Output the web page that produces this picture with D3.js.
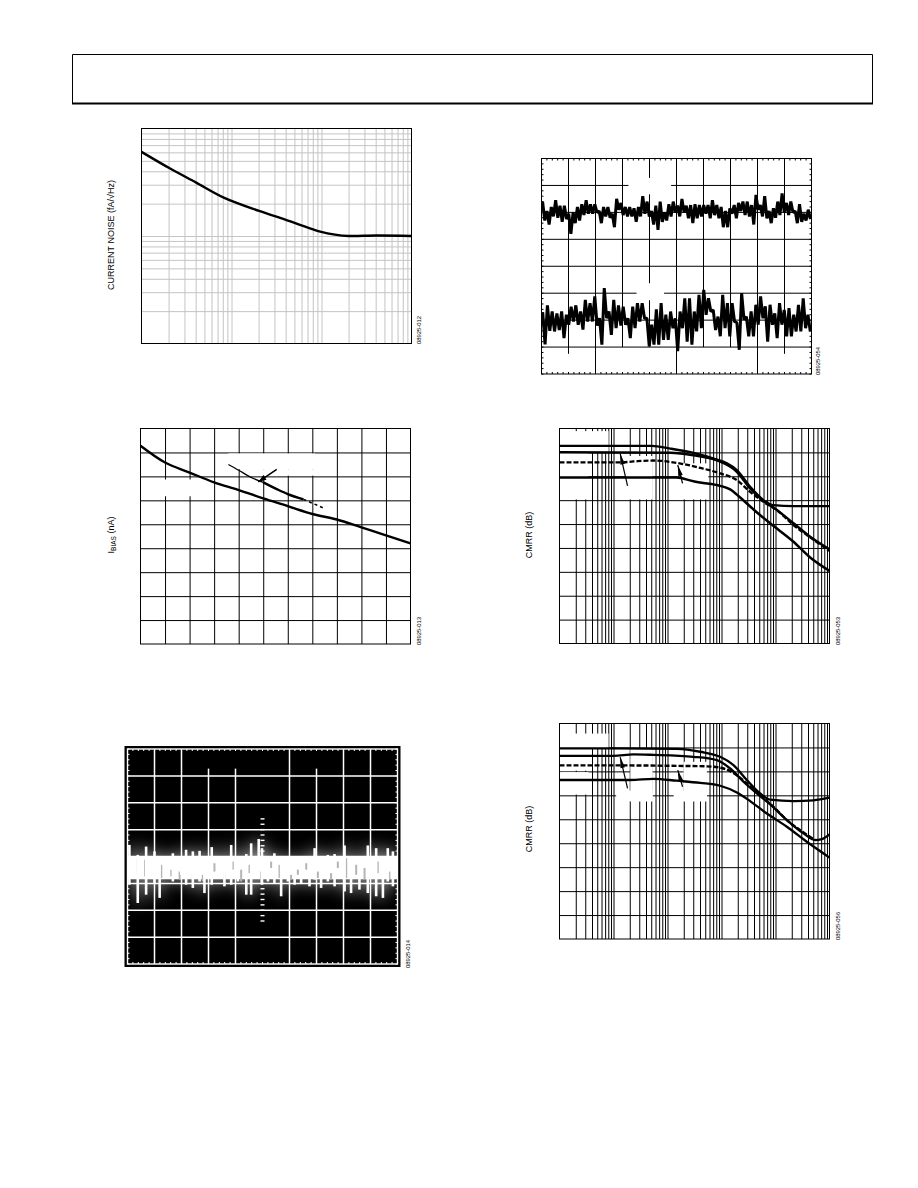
<!DOCTYPE html>
<html><head><meta charset="utf-8">
<script src="https://cdn.jsdelivr.net/npm/d3@7/dist/d3.min.js"></script>
<style>html,body{margin:0;padding:0;background:#fff}svg{display:block}
text{font-family:"Liberation Sans",Arial,sans-serif;fill:#000}</style></head><body>
<svg id="page" width="918" height="1188"></svg>
<script>
// ---------- Data ----------
const noiseF = [1,2.08,4.05,8.08,20.3,39.5,68,96.7,141,200,408,1000];
const noiseV = [606,424,314,229,171,142,121,110,103,100,101,100];

const biasX  = [0,1,2,3,4,5,6,7,8,9,10,11];
const biasY  = [8.28,7.58,7.16,6.75,6.43,6.08,5.76,5.43,5.2,4.87,4.54,4.2];
const bias2ThinX = [3.58,4,4.46,5];
const bias2ThinY = [7.5,7.26,6.98,6.75];
const bias2ThickX = [5,5.55,6,6.64];
const bias2ThickY = [6.75,6.47,6.26,6.04];
const bias2DotX = [6.64,7.5];
const bias2DotY = [6.04,5.66];

const scopeT = [0.07,0.38,0.69,1,1.19,1.49,1.68,1.99,2.17,2.42,2.67,2.85,3.12,3.35,3.59,3.84,4.09,4.4,4.58,4.86,4.98,5.2,5.44,5.69,5.94,6.19,6.43,6.74,6.93,7.17,7.42,7.67,8.04,8.28,8.59,8.9,9.21,9.46,9.64,9.83];
const scopeHi = [.43,.06,.37,.19,-.06,0,.12,0,.25,.19,.21,0,.35,0,0,.43,0,.09,.49,.65,.31,0,.12,-.25,0,-.25,-.19,0,.31,0,.06,.09,.41,0,0,.41,.31,0,.31,.19];
const scopeLo = [-1.05,-1.73,-1.42,-.99,-1.54,-.8,-.93,-.68,-1.05,-1.17,-.93,-1.36,-1.05,-.8,-1.11,-1.05,-.93,-1.42,-1.42,-.8,-1.05,-.93,-.99,-1.48,-.93,-1.05,-.99,-1.11,-.86,-1.17,-.93,-1.11,-1.3,-1.36,-1.23,-1.36,-1.48,-1.54,-.93,-1.11];
const scopeBandT  = [0,10];
const scopeBandHi = [.02,.02];
const scopeBandLo = [-.85,-.85];
const scopeGapT  = [.38,.65,1.25,1.62,1.93,2.42,2.79,3.22,3.59,3.9,4.21,4.52,4.95,5.32,5.63,6.06,6.31,6.62,7.05,7.54,7.79,8.1,8.47,8.78,9.27,9.7];
const scopeGapHi = [-.06,-.12,-.31,-.49,-.56,-.62,-.68,-.25,-.62,-.19,-.49,-.31,-.56,-.19,-.31,-.68,-.49,-.25,-.56,-.62,-.19,-.06,-.31,-.43,-.19,-.56];
const scopeGapLo = [-.62,-.74,-.8,-.74,-.86,-.86,-.93,-.56,-.93,-.49,-.93,-.62,-.99,-.43,-.8,-.86,-.68,-.49,-.8,-.86,-.43,-.8,-.68,-.86,-.62,-.86];

const trace1Hi = [2.4,2.05,2.2,2.45,2.25,2.25,1.95,2.0,2.2,2.3,2.45,2.3,2.3,2.05,2.2,2.2,1.95,2.5,2.35,2.2,2.2,2.15,2.2,2.6,2.4,2.05,2.25,2.4,2.0,2.3,2.4,2.25,2.5,2.25,2.27,2.3,2.27,2.27,2.27,2.45,2.27,2.2,2.05,2.15,2.27,2.35,2.4,2.4,2.27,2.65,2.27,2.6,2.05,2.15,2.4,2.7,2.35,2.4,2.05,2.3,1.95,2.1];
const trace1Lo = [1.7,1.55,1.85,1.8,1.65,1.75,1.2,1.6,1.7,1.9,1.95,1.95,2.0,1.6,1.85,1.8,1.45,2.1,1.9,1.85,1.85,1.65,1.85,1.95,1.85,1.55,1.35,1.65,1.7,1.85,2.0,1.85,2.0,1.78,1.6,1.78,1.85,1.95,1.78,1.9,1.78,1.45,1.45,1.95,1.78,2.05,1.9,1.85,1.55,2.1,1.85,1.78,1.6,1.8,1.9,2.0,1.9,2.0,1.6,1.65,1.7,1.75];
const trace2Hi = [-1.7,-1.45,-1.68,-1.75,-1.68,-1.8,-1.5,-1.45,-1.68,-1.25,-1.37,-1.12,-1.93,-.81,-1.68,-1.25,-1.45,-1.5,-1.93,-1.5,-1.37,-1.37,-1.93,-2.17,-1.6,-1.37,-1.8,-1.68,-1.93,-1.68,-1.19,-1.19,-1.68,-1.06,-.88,-1.19,-1.62,-1.87,-1.06,-1.37,-1.37,-2.1,-1.0,-1.87,-1.68,-1.43,-1.12,-1.49,-1.43,-1.75,-1.37,-1.62,-1.55,-1.8,-1.43,-1.19,-1.8];
const trace2Lo = [-2.9,-2.4,-2.42,-2.37,-2.67,-2.17,-2.05,-2.17,-2.35,-2.05,-2.05,-2.2,-2.91,-1.93,-2.55,-2.3,-2.2,-2.17,-2.67,-2.3,-2.05,-1.93,-2.97,-2.91,-2.91,-2.73,-2.73,-2.3,-3.15,-2.3,-2.8,-2.91,-2.42,-2.3,-1.8,-1.68,-2.37,-2.6,-2.3,-2.6,-2.05,-3.1,-1.98,-2.6,-2.6,-2.17,-1.93,-2.8,-2.17,-2.67,-2.17,-2.6,-2.6,-2.42,-2.42,-2.3,-2.42];

const cm5AF = [1,51,112,303,820,1260,1923,3395,5995,9180,21540,100000];
const cm5AV = [122.7,122.7,121.6,119.8,117,115.4,112.6,105.6,100,97.9,97.5,97.5];
const cm5BF = [1,112,303,820,1923,3395,5995,9180,21540,43850,100000];
const cm5BV = [120.1,119.8,118.8,116.7,111.9,104.9,99.6,96.9,90.3,84.7,79.4];
const cm5CF = [1,13.3,23.5,55,149,403,945,1923,3395,5995,10590,21540,43850,100000];
const cm5CV = [115.8,115.8,116.2,116.6,115.6,113.5,111.2,108.4,103.5,99.3,95.8,89.6,84.4,78.8];
const cm5DF = [1,149,303,403,945,1446,2217,3915,7965,21540,43850,100000];
const cm5DV = [109.5,109.5,107.9,107.4,106,104.5,101.1,96.1,90.3,82.6,76,70.4];

const cm6AF = [1,10,149,403,945,1667,2945,5200,7965,21540,50550,100000];
const cm6AV = [119.6,119.6,119.4,118.2,116.1,112.6,106.4,100.8,98.2,97.6,97.9,99];
const cm6BF = [1,10,23.5,55,303,820,1446,2555,4510,7965,16220,33000,54300,72100,100000];
const cm6BV = [116.5,116.5,117.1,116.9,116.1,114.7,111.2,105.7,100.8,96.2,89.7,84.1,81.3,81.7,83.7];
const cm6CF = [1,13.3,149,535,1090,1923,2945,5200,9180,16220,33000,54300];
const cm6CV = [112.5,112.5,112.3,112.1,111.2,108.4,105,100.1,95.2,89.7,84.5,81.3];
const cm6DF = [1,20.4,55,149,403,945,1923,3395,6915,16220,38000,100000];
const cm6DV = [106.4,106.4,106.9,106.1,105.2,104,101.2,97.6,92.4,86.9,80.6,74];

const decadeMinors = [1,2,3,4,5,6,7,8,9];
const noiseLabel = "CURRENT NOISE (fA/\u221AHz)";
const biasLabelA = "I", biasLabelB = "BIAS", biasLabelC = " (nA)";
const cmrrLabel = "CMRR (dB)";
const codes = ["08925-012","08925-013","08925-014","08925-054","08925-053","08925-056"];

// ---------- Helpers ----------
const svg = d3.select("#page");
const pane = (x,y)=>svg.append("g").attr("transform",`translate(${x},${y})`);
function logTicks(lo,hi){const t=[];for(let d=lo;d<hi;d*=10)decadeMinors.forEach(m=>t.push(m*d));return t.filter(v=>v>lo);}
function grid(g,x,y,xt,yt,w,h,col){
  const gx=g.append("g").attr("transform",`translate(0,${h})`).call(d3.axisBottom(x).tickValues(xt).tickSize(-h).tickFormat(""));
  const gy=g.append("g").call(d3.axisLeft(y).tickValues(yt).tickSize(-w).tickFormat(""));
  [gx,gy].forEach(a=>{a.select(".domain").remove();a.selectAll("line").attr("stroke",col).attr("stroke-width",1);});
}
function frame(g,w,h,col,sw){g.append("rect").attr("width",w).attr("height",h).attr("fill","none").attr("stroke",col||"#000").attr("stroke-width",sw||1);}
function mask(g,x,y,x0,x1,y0,y1){g.append("rect").attr("x",x(x0)).attr("y",y(y1)).attr("width",x(x1)-x(x0)).attr("height",y(y0)-y(y1)).attr("fill","#fff");}
function curve(g,x,y,xs,ys,sw,dash,kind){
  const l=d3.line().x(d=>x(d[0])).y(d=>y(d[1])).curve(kind||d3.curveMonotoneX);
  const p=g.append("path").attr("d",l(xs.map((v,i)=>[v,ys[i]]))).attr("fill","none").attr("stroke","#000").attr("stroke-width",sw);
  if(dash)p.attr("stroke-dasharray",dash);return p;
}
function arrow(g,x0,y0,x1,y1,sw,hl,hw){
  const dx=x1-x0,dy=y1-y0,n=Math.hypot(dx,dy),ux=dx/n,uy=dy/n;
  g.append("line").attr("x1",x0).attr("y1",y0).attr("x2",x1).attr("y2",y1).attr("stroke","#000").attr("stroke-width",sw);
  const bx=x1-ux*hl,by=y1-uy*hl;
  g.append("polygon").attr("points",[[x1,y1],[bx-uy*hw,by+ux*hw],[bx+uy*hw,by-ux*hw]].join(" ")).attr("fill","#000");
}
function vlabel(px,py,txt,size){return svg.append("text").attr("transform",`translate(${px},${py}) rotate(-90)`).attr("text-anchor","middle").attr("font-size",size).text(txt);}
function code(px,py,txt){svg.append("text").attr("transform",`translate(${px},${py}) rotate(-90)`).attr("font-size",6).attr("textLength",28).attr("lengthAdjust","spacingAndGlyphs").text(txt);}
function edgeTicks(g,x,y,col,len){
  const xs=d3.range(0,10.001,.2),ys=d3.range(-4,4.001,.2);
  xs.forEach(t=>{[[y(4),y(4)+len],[y(-4),y(-4)-len]].forEach(a=>g.append("line").attr("x1",x(t)).attr("x2",x(t)).attr("y1",a[0]).attr("y2",a[1]).attr("stroke",col));});
  ys.forEach(t=>{[[x(0),x(0)+len],[x(10),x(10)-len]].forEach(a=>g.append("line").attr("y1",y(t)).attr("y2",y(t)).attr("x1",a[0]).attr("x2",a[1]).attr("stroke",col));});
}
function zigzag(g,x,y,hi,lo){
  const step=10/hi.length,pts=[];
  hi.forEach((v,i)=>{pts.push([(i+.25)*step,v]);pts.push([(i+.75)*step,lo[i]]);});
  g.append("path").attr("d",d3.line().x(d=>x(d[0])).y(d=>y(d[1]))(pts)).attr("fill","none").attr("stroke","#000").attr("stroke-width",3).attr("stroke-linejoin","bevel");
}

// ---------- Header box ----------
const head=pane(0,0);
head.append("path").attr("d","M72.5,104V54.5H872.5V104").attr("fill","none").attr("stroke","#000");
head.append("line").attr("x1",72).attr("x2",873).attr("y1",103.5).attr("y2",103.5).attr("stroke","#000").attr("stroke-width",2);

// ---------- Chart 1: current noise ----------
(function(){
  const w=270,h=215,g=pane(141.5,128.5);
  const x=d3.scaleLog().domain([1,1000]).range([0,w]),y=d3.scaleLog().domain([10,1000]).range([h,0]);
  grid(g,x,y,logTicks(1,1000),logTicks(10,1000),w,h,"#c4c4c4");
  frame(g,w,h);
  curve(g,x,y,noiseF,noiseV,2.4,null,d3.curveCatmullRom);
  vlabel(114,235,noiseLabel,9);
  code(420.5,344,codes[0]);
})();

// ---------- Chart 2: bias current ----------
(function(){
  const w=270,h=215.5,g=pane(140.5,428.5);
  const x=d3.scaleLinear().domain([0,11]).range([0,w]),y=d3.scaleLinear().domain([0,9]).range([h,0]);
  grid(g,x,y,d3.range(1,11),d3.range(1,9),w,h,"#000");
  mask(g,x,y,0.02,2.09,6.17,6.87);mask(g,x,y,3.58,7.11,7.3,7.96);mask(g,x,y,4.6,7.11,7.03,7.3);
  frame(g,w,h);
  curve(g,x,y,biasX,biasY,2.4,null,d3.curveCatmullRom);
  curve(g,x,y,bias2ThinX,bias2ThinY,1.2);
  curve(g,x,y,bias2ThickX,bias2ThickY,2.4);
  curve(g,x,y,bias2DotX,bias2DotY,1.5,"3,3");
  arrow(g,x(5.55),y(7.29),x(4.8),y(6.77),1.6,8,2.8);
  const t=svg.append("text").attr("transform","translate(114,535) rotate(-90)").attr("text-anchor","middle").attr("font-size",9);
  t.append("tspan").text(biasLabelA);t.append("tspan").attr("dy",1.5).attr("font-size",6.5).text(biasLabelB);t.append("tspan").attr("dy",-1.5).text(biasLabelC);
  code(420.5,645,codes[1]);
})();

// ---------- Chart 3: black scope ----------
(function(){
  const g=pane(127.5,749);const w=270,h=215;
  const x=d3.scaleLinear().domain([0,10]).range([0,w]),y=d3.scaleLinear().domain([-4,4]).range([h,0]);
  svg.insert("rect","g").attr("x",124.5).attr("y",746).attr("width",276).attr("height",221).attr("fill","#000");
  const defs=svg.append("defs");
  defs.append("filter").attr("id","glow").attr("x","-20%").attr("y","-80%").attr("width","140%").attr("height","260%").append("feGaussianBlur").attr("stdDeviation",8);
  defs.append("clipPath").attr("id","c3").append("rect").attr("width",w).attr("height",h);
  const gl=g.append("g").attr("clip-path","url(#c3)").append("g").attr("filter","url(#glow)").attr("opacity",.85);
  const band=d3.area().x(d=>x(d[0])).y0(d=>y(d[2])).y1(d=>y(d[1]));
  const bandD=band(scopeBandT.map((t,i)=>[t,scopeBandHi[i],scopeBandLo[i]]));
  gl.append("path").attr("d",bandD).attr("fill","#fff").attr("opacity",.3);
  scopeT.forEach((t,i)=>gl.append("line").attr("x1",x(t)).attr("x2",x(t)).attr("y1",y(scopeHi[i])).attr("y2",y(scopeLo[i])).attr("stroke","#fff").attr("stroke-width",3.5));
  const col="#fff",gw=1.5;
  [1,2,6,8,9].forEach(t=>g.append("line").attr("x1",x(t)).attr("x2",x(t)).attr("y1",0).attr("y2",h).attr("stroke",col).attr("stroke-width",gw));
  [3,4,7].forEach(t=>g.append("line").attr("x1",x(t)).attr("x2",x(t)).attr("y1",y(3.27)).attr("y2",h).attr("stroke",col).attr("stroke-width",gw));
  [3,2,1,0,-1,-2,-3].forEach(t=>g.append("line").attr("y1",y(t)).attr("y2",y(t)).attr("x1",0).attr("x2",w).attr("stroke",col).attr("stroke-width",gw));
  edgeTicks(g,x,y,col,2);
  d3.range(-2.4,1.41,.2).forEach(t=>g.append("line").attr("x1",x(5)-2).attr("x2",x(5)+2).attr("y1",y(t)).attr("y2",y(t)).attr("stroke",col).attr("stroke-width",1.4));
  g.append("rect").attr("width",w).attr("height",h).attr("fill","none").attr("stroke",col).attr("stroke-width",1.4);
  g.append("path").attr("d",bandD).attr("fill","#fff");
  scopeGapT.forEach((t,i)=>g.append("line").attr("x1",x(t)).attr("x2",x(t)).attr("y1",y(scopeGapHi[i])).attr("y2",y(scopeGapLo[i])).attr("stroke","#b4b4b4").attr("stroke-width",2));
  scopeT.forEach((t,i)=>g.append("line").attr("x1",x(t)).attr("x2",x(t)).attr("y1",y(scopeHi[i])).attr("y2",y(scopeLo[i])).attr("stroke","#fff").attr("stroke-width",2.6));
  code(410,968,codes[2]);
})();

// ---------- Chart 4: white scope ----------
(function(){
  const g=pane(541.5,158.5);const w=270,h=215.5;
  const x=d3.scaleLinear().domain([0,10]).range([0,w]),y=d3.scaleLinear().domain([-4,4]).range([h,0]);
  [2,5,8].forEach(t=>g.append("line").attr("x1",x(t)).attr("x2",x(t)).attr("y1",0).attr("y2",h).attr("stroke","#000"));
  [3,4,6,7].forEach(t=>g.append("line").attr("x1",x(t)).attr("x2",x(t)).attr("y1",0).attr("y2",y(-3)).attr("stroke","#000"));
  [1,9].forEach(t=>g.append("line").attr("x1",x(t)).attr("x2",x(t)).attr("y1",0).attr("y2",y(-3.25)).attr("stroke","#000"));
  [3,2,1,0,-1,-2,-3].forEach(t=>g.append("line").attr("y1",y(t)).attr("y2",y(t)).attr("x1",0).attr("x2",w).attr("stroke","#000"));
  mask(g,x,y,3.22,4.8,2.67,3.28);mask(g,x,y,3.52,4.54,-1.26,-.63);
  edgeTicks(g,x,y,"#000",2);
  frame(g,w,h);
  zigzag(g,x,y,trace1Hi,trace1Lo);
  zigzag(g,x,y,trace2Hi,trace2Lo);
  code(820,375,codes[3]);
})();

// ---------- Charts 5 / 6: CMRR ----------
function cmrr(top,H,curves,masks,arrows,lblY,codeTxt,codeY){
  const w=270,h=H,g=pane(559.5,top);
  const x=d3.scaleLog().domain([1,1e5]).range([0,w]),y=d3.scaleLinear().domain([40,130]).range([h,0]);
  grid(g,x,y,logTicks(1,1e5),d3.range(50,130,10),w,h,"#000");
  masks.forEach(m=>mask(g,x,y,m[0],m[1],m[2],m[3]));
  frame(g,w,h);
  curves.forEach(c=>curve(g,x,y,c[0],c[1],c[2],c[3]));
  arrows.forEach(a=>arrow(g,x(a[0]),y(a[1]),x(a[2]),y(a[3]),1.2,11,2.3));
  vlabel(532,lblY,cmrrLabel,9);
  code(840,codeY,codeTxt);
}
cmrr(428.5,215,
 [[cm5AF,cm5AV,2.3],[cm5BF,cm5BV,2.5],[cm5CF,cm5CV,2.3,"5,2"],[cm5DF,cm5DV,2.5]],
 [[1.03,8.1,120,128.9],[1.03,3.44,100.3,120],[16.4,53,100.3,118.5],[184,570,100.3,115.4]],
 [[18.2,106,13.3,119.5],[190,107,155,114.7]],
 535,codes[4],645);
cmrr(723.5,215.5,
 [[cm6AF,cm6AV,2.3],[cm6BF,cm6BV,2.3],[cm6CF,cm6CV,2.4,"5,2"],[cm6DF,cm6DV,2.3]],
 [[1.03,8.1,119.8,125.8],[1.03,3.44,110.3,119.8],[1.03,3.44,100.3,109.7],[20.5,53,97.5,119.5],[11.2,53,97.5,102],[198,537,97.5,114],[130,537,97.5,102]],
 [[18.2,102.9,13.3,116],[190,103.6,155,110.5]],
 829,codes[5],940);
</script></body></html>
